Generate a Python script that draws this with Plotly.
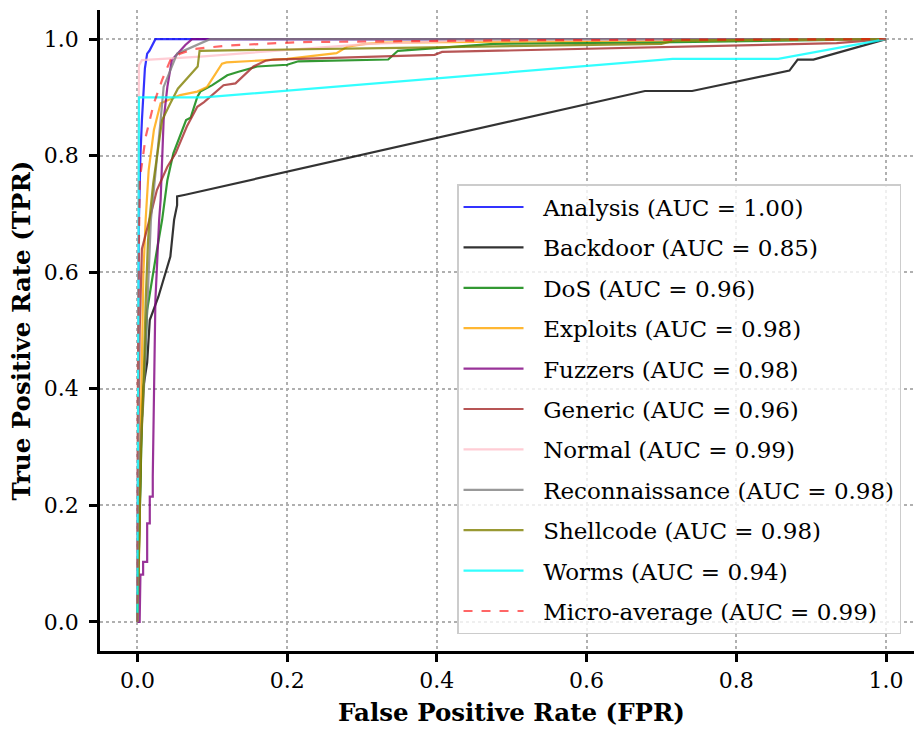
import plotly.graph_objects as go

names = ["Analysis", "Backdoor", "DoS", "Exploits", "Fuzzers", "Generic",
         "Normal", "Reconnaissance", "Shellcode", "Worms"]
auc = [1.00, 0.85, 0.96, 0.98, 0.98, 0.96, 0.99, 0.98, 0.98, 0.94]
micro_auc = 0.99

fpr_analysis = [0, 0.001, 0.002, 0.004, 0.006, 0.010, 0.013, 0.016, 0.024, 1.0]
tpr_analysis = [0, 0.45, 0.69, 0.80, 0.861, 0.95, 0.975, 0.98, 1.0, 1.0]

fpr_backdoor = [0, 0.002, 0.005, 0.0076, 0.013, 0.0165, 0.028, 0.044, 0.049, 0.053, 0.053,
                0.064, 0.678, 0.741, 0.871, 0.882, 0.903, 1.0]
tpr_backdoor = [0, 0.15, 0.32, 0.40, 0.445, 0.518, 0.558, 0.627, 0.69, 0.715, 0.73,
                0.733, 0.911, 0.911, 0.946, 0.965, 0.965, 1.0]

fpr_dos = [0, 0.003, 0.006, 0.010, 0.013, 0.025, 0.033, 0.040, 0.048, 0.065, 0.071, 0.080,
           0.084, 0.100, 0.120, 0.135, 0.160, 0.200, 0.215, 0.335, 0.348, 0.476, 0.72, 1.0]
tpr_dos = [0, 0.2, 0.35, 0.45, 0.535, 0.63, 0.69, 0.758, 0.804, 0.861, 0.865, 0.901,
           0.91, 0.921, 0.938, 0.944, 0.953, 0.956, 0.962, 0.965, 0.98, 0.992, 0.995, 1.0]

fpr_exploits = [0, 0.002, 0.004, 0.006, 0.008, 0.011, 0.015, 0.022, 0.031, 0.057, 0.080,
                0.093, 0.104, 0.113, 0.119, 0.165, 0.2, 0.266, 0.28, 0.305, 0.33, 0.6, 1.0]
tpr_exploits = [0, 0.1, 0.3, 0.45, 0.6, 0.69, 0.775, 0.844, 0.89, 0.904, 0.91,
                0.918, 0.941, 0.958, 0.96, 0.964, 0.966, 0.976, 0.987, 0.992, 0.994, 0.997, 1.0]

fpr_fuzzers = [0, 0.003, 0.004, 0.0076, 0.0076, 0.013, 0.013, 0.0165, 0.0165, 0.0205, 0.0205,
               0.024, 0.029, 0.031, 0.035, 0.040, 0.046, 0.064, 0.073, 1.0]
tpr_fuzzers = [0, 0.0, 0.081, 0.081, 0.103, 0.103, 0.169, 0.169, 0.215, 0.215, 0.25,
               0.552, 0.69, 0.724, 0.861, 0.918, 0.964, 0.99, 1.0, 1.0]

fpr_generic = [0, 0.001, 0.003, 0.006, 0.018, 0.026, 0.040, 0.051, 0.066, 0.080, 0.089,
               0.115, 0.131, 0.155, 0.171, 0.182, 0.397, 0.407, 0.934, 1.0]
tpr_generic = [0, 0.3, 0.5, 0.64, 0.70, 0.741, 0.781, 0.804, 0.85, 0.884, 0.892,
               0.921, 0.924, 0.953, 0.963, 0.965, 0.973, 0.978, 0.993, 1.0]

fpr_normal = [0, 0.002, 0.002, 0.006, 0.084, 0.174, 0.31, 0.45, 1.0]
tpr_normal = [0, 0.9, 0.955, 0.964, 0.97, 0.979, 0.992, 0.998, 1.0]

fpr_recon = [0, 0.004, 0.008, 0.012, 0.016, 0.018, 0.031, 0.035, 0.053, 0.080, 0.097, 1.0]
tpr_recon = [0, 0.3, 0.38, 0.5, 0.62, 0.69, 0.861, 0.918, 0.975, 0.99, 1.0, 1.0]

fpr_shellcode = [0, 0.005, 0.008, 0.011, 0.014, 0.016, 0.021, 0.033, 0.044, 0.054,
                 0.0805, 0.083, 0.35, 0.70, 0.72, 1.0]
tpr_shellcode = [0, 0.3, 0.4, 0.55, 0.65, 0.69, 0.752, 0.861, 0.89, 0.915,
                 0.953, 0.98, 0.985, 0.992, 0.998, 1.0]

fpr_worms = [0, 0.002, 0.002, 0.089, 0.715, 0.856, 1.0]
tpr_worms = [0, 0.75, 0.9, 0.90, 0.966, 0.966, 1.0]

fpr_micro = [0, 0.0005, 0.002, 0.003, 0.011, 0.022, 0.033, 0.044, 0.057, 0.075, 0.12,
             0.218, 0.5, 1.0]
tpr_micro = [0, 0.4, 0.65, 0.758, 0.832, 0.89, 0.93, 0.964, 0.975, 0.983, 0.989,
             0.995, 0.998, 1.0]

fprs = [fpr_analysis, fpr_backdoor, fpr_dos, fpr_exploits, fpr_fuzzers, fpr_generic,
        fpr_normal, fpr_recon, fpr_shellcode, fpr_worms]
tprs = [tpr_analysis, tpr_backdoor, tpr_dos, tpr_exploits, tpr_fuzzers, tpr_generic,
        tpr_normal, tpr_recon, tpr_shellcode, tpr_worms]

colors = ["rgba(0,0,255,0.8)", "rgba(0,0,0,0.8)", "rgba(0,128,0,0.8)", "rgba(255,165,0,0.8)",
          "rgba(128,0,128,0.8)", "rgba(165,42,42,0.8)", "rgba(255,192,203,0.8)",
          "rgba(128,128,128,0.8)", "rgba(128,128,0,0.8)", "rgba(0,255,255,0.8)"]

SERIF = "DejaVu Serif"
PAD = "\u00a0\u00a0"

fig = go.Figure()
for n, a, fx, ty, c in zip(names, auc, fprs, tprs, colors):
    fig.add_trace(go.Scatter(x=fx, y=ty, mode="lines", name=f"{PAD}{n} (AUC = {a:.2f})",
                             legendgroup=n, line=dict(color=c, width=2.2)))
fig.add_trace(go.Scatter(x=fpr_micro, y=tpr_micro, mode="lines",
                         name=f"{PAD}Micro-average (AUC = {micro_auc:.2f})", legendgroup="micro",
                         line=dict(color="rgba(255,0,0,0.6)", width=2.2, dash="dash")))

ticks = [0, 0.2, 0.4, 0.6, 0.8, 1.0]
ticktext = ["0.0", "0.2", "0.4", "0.6", "0.8", "1.0"]

axis_common = dict(
    tickvals=ticks, ticktext=ticktext, showgrid=True, gridcolor="#b0b0b0", gridwidth=1.5,
    griddash="dot", zeroline=False, showline=True, linecolor="black", linewidth=2.5,
    ticks="outside", ticklen=8, tickwidth=2.5, tickcolor="black", automargin=False,
    tickfont=dict(family=SERIF, size=22, color="black"),
)

fig.update_layout(
    width=914, height=733,
    margin=dict(l=100, r=0, t=10, b=82, autoexpand=False),
    paper_bgcolor="white", plot_bgcolor="white",
    xaxis=dict(range=[-0.05, 1.0374], **axis_common),
    yaxis=dict(range=[-0.05, 1.05], ticklabelstandoff=6, **axis_common),
    showlegend=True,
    legend=dict(x=0.4386, y=0.7285, xanchor="left", yanchor="top",
                bgcolor="rgba(255,255,255,0.8)", bordercolor="#cccccc", borderwidth=1.5,
                font=dict(family=SERIF, size=23, color="black"),
                traceorder="grouped", tracegroupgap=7.5, itemwidth=60),
    annotations=[
        dict(text="<b>False Positive Rate (FPR)</b>", xref="x", yref="paper", x=0.5, y=0,
             yshift=-61, xanchor="center", yanchor="middle", showarrow=False,
             font=dict(family=SERIF, size=24.5, color="black")),
        dict(text="<b>True Positive Rate (TPR)</b>", xref="paper", yref="paper", x=0, y=0.5,
             xshift=-79, xanchor="center", yanchor="middle", showarrow=False, textangle=-90,
             font=dict(family=SERIF, size=24.5, color="black")),
    ],
)

fig.write_html("out.html", config={"displayModeBar": False},
               post_script="document.body.style.margin='0px';")
